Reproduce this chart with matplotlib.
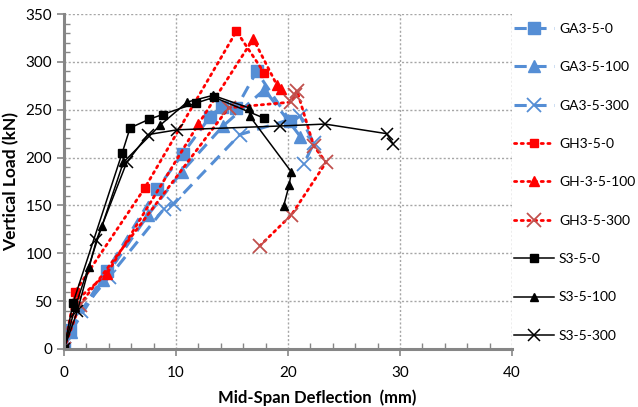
import matplotlib
matplotlib.use('Agg')
import matplotlib.pyplot as plt
from matplotlib.ticker import MultipleLocator

plt.rcParams['font.family'] = ['Lato', 'DejaVu Sans']

# deflection (mm) / load (kN)
ga0_x = [0, 0.5, 3.8, 8.3, 10.6, 13.0, 14.1, 15.4, 17.2, 20.2]
ga0_y = [0, 20, 81, 167, 204, 242, 253, 252, 290, 238]
ga100_x = [0, 0.6, 3.5, 7.5, 10.5, 14.2, 17.9, 21.1]
ga100_y = [0, 18, 72, 140, 185, 233, 271, 222]
ga300_x = [0, 1.5, 4.0, 8.9, 9.8, 15.7, 21.1, 22.3, 21.4]
ga300_y = [0, 40, 75, 146, 152, 224, 243, 215, 193]

gh0_x = [0, 1.0, 7.2, 15.4, 17.9]
gh0_y = [0, 60, 168, 332, 288]
gh100_x = [0, 1.0, 3.8, 12.0, 16.9, 19.0, 19.4]
gh100_y = [0, 50, 78, 235, 324, 276, 272]
gh300_x = [0, 1.4, 14.7, 20.3, 20.6, 20.8, 22.3, 23.4, 20.3, 17.5]
gh300_y = [0, 46, 252, 258, 265, 270, 212, 195, 140, 108]

s0_x = [0, 0.8, 5.2, 5.9, 7.6, 8.8, 11.8, 13.4, 17.9]
s0_y = [0, 48, 205, 231, 240, 245, 257, 263, 241]
s100_x = [0, 1.0, 2.2, 3.4, 5.3, 8.6, 11.0, 13.3, 16.5, 16.6, 20.3, 20.1, 19.6]
s100_y = [0, 44, 86, 129, 195, 234, 258, 265, 252, 243, 185, 171, 149]
s300_x = [0, 1.2, 2.9, 5.6, 7.5, 10.1, 19.3, 23.3, 28.8, 29.4]
s300_y = [0, 40, 114, 195, 224, 229, 233, 235, 225, 214]

blue = '#558ED5'
red = '#FF0000'
brick = '#C0504D'

fig = plt.figure(figsize=(6.38, 4.07), dpi=100)
ax = fig.add_axes([64/638, 1-349/407, 448/638, 335/407])

dash = dict(color=blue, lw=2.2, dashes=(4, 2.5), mec=blue, mfc=blue)
ax.plot(ga0_x, ga0_y, marker='s', ms=9, label='GA3-5-0', **dash)
ax.plot(ga100_x, ga100_y, marker='^', ms=9, label='GA3-5-100', **dash)
ax.plot(ga300_x, ga300_y, marker='x', ms=10, mew=1.3, label='GA3-5-300', **dash)

dot = dict(color=red, lw=2.0, dashes=(0.8, 1.6), dash_capstyle='round')
ax.plot(gh0_x, gh0_y, marker='s', ms=6, mfc=red, mec=red, label='GH3-5-0', **dot)
ax.plot(gh100_x, gh100_y, marker='^', ms=7, mfc=red, mec=red, label='GH-3-5-100', **dot)
ax.plot(gh300_x, gh300_y, marker='x', ms=10, mew=1.3, mec=brick, label='GH3-5-300', **dot)

ax.plot(s0_x, s0_y, color='black', lw=1.1, marker='s', ms=6, label='S3-5-0')
ax.plot(s100_x, s100_y, color='black', lw=1.1, marker='^', ms=6, label='S3-5-100')
ax.plot(s300_x, s300_y, color='black', lw=1.1, marker='x', ms=9, mew=1.1, label='S3-5-300')

ax.set_xlim(0, 40)
ax.set_ylim(0, 350)
ax.xaxis.set_major_locator(MultipleLocator(10))
ax.xaxis.set_minor_locator(MultipleLocator(2))
ax.yaxis.set_major_locator(MultipleLocator(50))
ax.yaxis.set_minor_locator(MultipleLocator(10))
ax.grid(True, which='major', color='#A6A6A6', ls=(0, (1.5, 1.5)), lw=1.0)
ax.set_axisbelow(True)
for s in ['top', 'right']:
    ax.spines[s].set_visible(False)
for s in ['left', 'bottom']:
    ax.spines[s].set_color('#868686')
    ax.spines[s].set_linewidth(2.2)
ax.tick_params(which='major', direction='out', length=5, width=1.2, color='#868686',
               labelsize=11, labelcolor='#000000')
ax.tick_params(axis='x', which='major', pad=7)
ax.tick_params(which='minor', direction='in', length=4, width=1.0, color='#868686')
ax.set_xlabel('Mid-Span Deflection  (mm)', fontsize=12, fontweight='bold')
ax.xaxis.set_label_coords(0.565, -0.122)
ax.set_ylabel('Vertical Load (kN)', fontsize=12.5, fontweight='bold')
ax.yaxis.set_label_coords(-0.1, 0.5)

fig.legend(loc='upper left', bbox_to_anchor=(511/638, 1-20/407), frameon=False,
           fontsize=10, handlelength=2.9, labelspacing=1.9, handletextpad=0.35,
           borderaxespad=0, borderpad=0.2)

fig.savefig('out.png', dpi=100)
